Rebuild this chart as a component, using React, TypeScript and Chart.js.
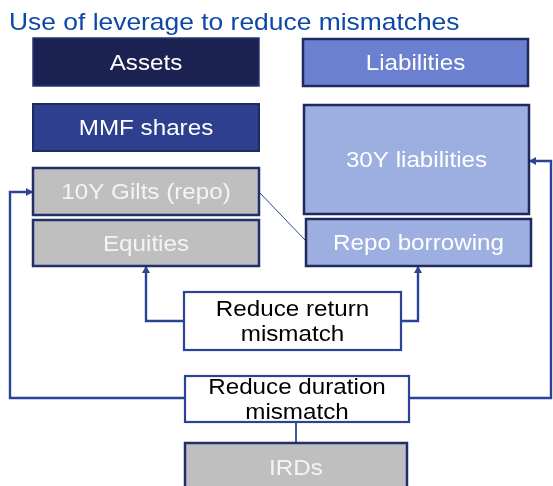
import React, { useEffect, useRef } from "react";
import { Chart, registerables } from "chart.js";

Chart.register(...registerables);

// ---- Diagram data (diagram units = reference pixels) ----
const titleText = "Use of leverage to reduce mismatches";

const boxLabels = [
  "Assets",
  "Liabilities",
  "MMF shares",
  "30Y liabilities",
  "10Y Gilts (repo)",
  "Equities",
  "Repo borrowing",
  "Reduce return\nmismatch",
  "Reduce duration\nmismatch",
  "IRDs",
];
const boxLeft = [33, 303, 33, 304, 33, 33, 306, 184, 185, 185];
const boxRight = [259, 528, 259, 529, 259, 259, 531, 401, 409, 407];
const boxTop = [38, 39, 104, 105, 168, 220, 219, 292, 376, 443];
const boxBottom = [86, 86, 151, 214, 215, 266, 266, 350, 422, 500];

const connectorNames = ["returnLeft", "returnRight", "durationLeft", "durationRight", "repoLink", "irdLink"];
const connectorX = [
  [184, 146, 146],
  [401, 418, 418],
  [185, 10, 10, 33],
  [409, 551, 551, 529],
  [259, 306],
  [296, 296],
];
const connectorY = [
  [321, 321, 266],
  [321, 321, 266],
  [398, 398, 192, 192],
  [398, 398, 161, 161],
  [192, 241],
  [422, 443],
];
const connectorArrow = [true, true, true, true, false, false];
const connectorThin = [false, false, false, false, true, true];

// ---- Styles ----
const FONT = '"Liberation Sans", Arial, sans-serif';
const TEXT_STRETCH = 1.1;
const LINE_COLOR = "#2b4396";
const boxStyles: Record<string, { fill: string; border: string; width: number; text: string }> = {
  Assets: { fill: "#1b2150", border: "#2a3573", width: 1.5, text: "#ffffff" },
  Liabilities: { fill: "#6b80d0", border: "#1f2a5e", width: 2.5, text: "#ffffff" },
  "MMF shares": { fill: "#2e3f8f", border: "#1f2a5e", width: 2, text: "#ffffff" },
  "30Y liabilities": { fill: "#9daee0", border: "#1f2a5e", width: 2.5, text: "#ffffff" },
  "10Y Gilts (repo)": { fill: "#bfbfbf", border: "#22306a", width: 2.5, text: "#f4f4f4" },
  Equities: { fill: "#bfbfbf", border: "#22306a", width: 2.5, text: "#f4f4f4" },
  "Repo borrowing": { fill: "#9daee0", border: "#1f2a5e", width: 2.5, text: "#ffffff" },
  "Reduce return\nmismatch": { fill: "#ffffff", border: LINE_COLOR, width: 2.2, text: "#000000" },
  "Reduce duration\nmismatch": { fill: "#ffffff", border: LINE_COLOR, width: 2.2, text: "#000000" },
  IRDs: { fill: "#bfbfbf", border: "#22306a", width: 2.5, text: "#f4f4f4" },
};

const diagramPlugin = {
  id: "diagram",
  afterDatasetsDraw(chart: any) {
    const ctx: CanvasRenderingContext2D = chart.ctx;
    const xs = chart.scales.x;
    const ys = chart.scales.y;
    const px = (v: number) => xs.getPixelForValue(v);
    const py = (v: number) => ys.getPixelForValue(v);

    // arrowheads
    connectorX.forEach((xArr, i) => {
      if (!connectorArrow[i]) return;
      const n = xArr.length;
      const x1 = px(xArr[n - 1]);
      const y1 = py(connectorY[i][n - 1]);
      const x0 = px(xArr[n - 2]);
      const y0 = py(connectorY[i][n - 2]);
      const ang = Math.atan2(y1 - y0, x1 - x0);
      const len = 7;
      const hw = 4;
      ctx.save();
      ctx.translate(x1, y1);
      ctx.rotate(ang);
      ctx.fillStyle = LINE_COLOR;
      ctx.beginPath();
      ctx.moveTo(0, 0);
      ctx.lineTo(-len, -hw);
      ctx.lineTo(-len, hw);
      ctx.closePath();
      ctx.fill();
      ctx.restore();
    });

    // boxes
    boxLabels.forEach((label, i) => {
      const st = boxStyles[label];
      const l = px(boxLeft[i]);
      const r = px(boxRight[i]);
      const t = py(boxTop[i]);
      const b = py(boxBottom[i]);
      ctx.save();
      ctx.fillStyle = st.fill;
      ctx.fillRect(l, t, r - l, b - t);
      ctx.strokeStyle = st.border;
      ctx.lineWidth = st.width;
      ctx.strokeRect(l, t, r - l, b - t);
      ctx.restore();

      const lines = label.split("\n");
      const size = 22;
      const lh = 25;
      const cap = size * 0.716;
      let cy = (t + b) / 2;
      if (label === "IRDs") cy = t + 24;
      const cx = (l + r) / 2;
      const firstBase = cy - ((lines.length - 1) * lh) / 2 + cap / 2;
      ctx.save();
      ctx.fillStyle = st.text;
      ctx.font = `${size}px ${FONT}`;
      ctx.textAlign = "center";
      ctx.textBaseline = "alphabetic";
      lines.forEach((ln, k) => {
        ctx.save();
        ctx.translate(cx, firstBase + k * lh);
        ctx.scale(TEXT_STRETCH, 1);
        ctx.fillText(ln, 0, 0);
        ctx.restore();
      });
      ctx.restore();
    });

    // title
    ctx.save();
    ctx.fillStyle = "#0d47a8";
    ctx.font = `24px ${FONT}`;
    ctx.textAlign = "left";
    ctx.textBaseline = "alphabetic";
    ctx.translate(px(9), py(30));
    ctx.scale(TEXT_STRETCH, 1);
    ctx.fillText(titleText, 0, 0);
    ctx.restore();
  },
};

export default function App() {
  const ref = useRef<HTMLCanvasElement | null>(null);
  useEffect(() => {
    if (!ref.current) return;
    const datasets = connectorNames.map((name, i) => ({
      label: name,
      data: connectorX[i].map((x, k) => ({ x, y: connectorY[i][k] })),
      showLine: true,
      borderColor: LINE_COLOR,
      borderWidth: connectorThin[i] ? 1 : 2.4,
      pointRadius: 0,
      fill: false,
      tension: 0,
      clip: 4,
    }));
    const chart = new Chart(ref.current, {
      type: "scatter",
      data: { datasets },
      options: {
        animation: false,
        responsive: false,
        events: [],
        layout: { padding: 0 },
        plugins: { legend: { display: false }, tooltip: { enabled: false }, title: { display: false } },
        scales: {
          x: { type: "linear", min: 0, max: 553, display: false },
          y: { type: "linear", min: 0, max: 486, reverse: true, display: false },
        },
      },
      plugins: [diagramPlugin],
    });
    return () => chart.destroy();
  }, []);
  return (
    <div style={{ position: "absolute", left: 0, top: 0, width: 553, height: 486, background: "#ffffff" }}>
      <canvas ref={ref} width={553} height={486} style={{ display: "block", width: 553, height: 486 }} />
    </div>
  );
}
